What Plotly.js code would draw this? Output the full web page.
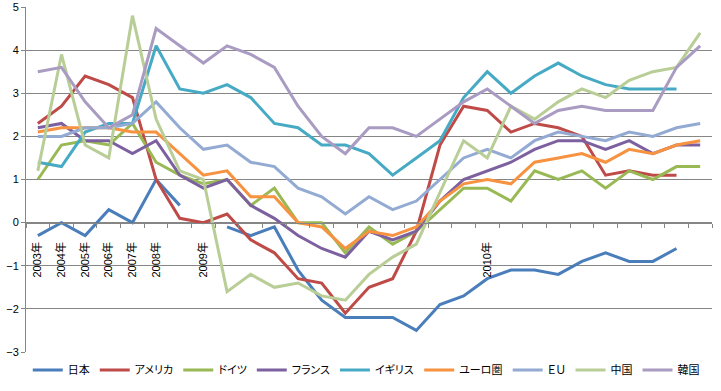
<!DOCTYPE html>
<html>
<head>
<meta charset="utf-8">
<script src="https://cdn.plot.ly/plotly-3.0.1.min.js"></script>
<style>
html,body{margin:0;padding:0;background:#fff;}
#chart{width:721px;height:391px;}
.legendtext{font-feature-settings:"palt" 1;}
</style>
</head>
<body>
<div id="chart"></div>
<script>
// categories: annual 2003-2008, then monthly Dec 2008 - Oct 2010
const categories = ['2003','2004','2005','2006','2007','2008','2008-12',
  '2009-01','2009-02','2009-03','2009-04','2009-05','2009-06','2009-07','2009-08','2009-09','2009-10','2009-11','2009-12',
  '2010-01','2010-02','2010-03','2010-04','2010-05','2010-06','2010-07','2010-08','2010-09','2010-10'];
const tickLabels = ['2003年','2004年','2005年','2006年','2007年','2008年','',
  '2009年','','','','','','','','','','','',
  '2010年','','','','','','','','',''];

const seriesNames = ['日本','アメリカ','ドイツ','フランス','イギリス','ユーロ圏','ＥＵ','中国','韓国'];

const japan   = [-0.3,0.0,-0.3,0.3,0.0,1.0,0.4, null,-0.1,-0.3,-0.1,-1.1,-1.8,-2.2,-2.2,-2.2,-2.5,-1.9, -1.7,-1.3,-1.1,-1.1,-1.2,-0.9,-0.7,-0.9,-0.9,-0.6,null];
const usa     = [2.3,2.7,3.4,3.2,2.9,1.0,0.1, 0.0,0.2,-0.4,-0.7,-1.3,-1.4,-2.1,-1.5,-1.3,-0.2,1.8, 2.7,2.6,2.1,2.3,2.2,2.0,1.1,1.2,1.1,1.1,null];
const germany = [1.0,1.8,1.9,1.8,2.3,1.4,1.1, 0.9,1.0,0.4,0.8,0.0,0.0,-0.7,-0.1,-0.5,-0.2,0.3, 0.8,0.8,0.5,1.2,1.0,1.2,0.8,1.2,1.0,1.3,1.3];
const france  = [2.2,2.3,1.9,1.9,1.6,1.9,1.1, 0.8,1.0,0.4,0.1,-0.3,-0.6,-0.8,-0.2,-0.4,-0.2,0.5, 1.0,1.2,1.4,1.7,1.9,1.9,1.7,1.9,1.6,1.8,1.8];
const uk      = [1.4,1.3,2.1,2.3,2.3,4.1,3.1, 3.0,3.2,2.9,2.3,2.2,1.8,1.8,1.6,1.1,1.5,1.9, 2.9,3.5,3.0,3.4,3.7,3.4,3.2,3.1,3.1,3.1,null];
const euro    = [2.1,2.2,2.2,2.2,2.1,2.1,1.6, 1.1,1.2,0.6,0.6,0.0,-0.1,-0.6,-0.2,-0.3,-0.1,0.5, 0.9,1.0,0.9,1.4,1.5,1.6,1.4,1.7,1.6,1.8,1.9];
const eu      = [2.0,2.0,2.2,2.2,2.3,2.8,2.2, 1.7,1.8,1.4,1.3,0.8,0.6,0.2,0.6,0.3,0.5,1.0, 1.5,1.7,1.5,1.9,2.1,2.0,1.9,2.1,2.0,2.2,2.3];
const china   = [1.2,3.9,1.8,1.5,4.8,2.4,1.2, 1.0,-1.6,-1.2,-1.5,-1.4,-1.7,-1.8,-1.2,-0.8,-0.5,0.7, 1.9,1.5,2.7,2.4,2.8,3.1,2.9,3.3,3.5,3.6,4.4];
const korea   = [3.5,3.6,2.8,2.2,2.5,4.5,4.1, 3.7,4.1,3.9,3.6,2.7,2.0,1.6,2.2,2.2,2.0,2.4, 2.8,3.1,2.7,2.3,2.6,2.7,2.6,2.6,2.6,3.6,4.1];

const seriesValues = [japan, usa, germany, france, uk, euro, eu, china, korea];
const seriesColors = ['#4A7EBB','#BE4B48','#98B954','#7D60A0','#46AAC5','#F69240','#93AAD3','#B9CE96','#A99BC2'];

const traces = seriesNames.map((name, k) => ({
  type: 'scatter',
  mode: 'lines',
  name: name,
  x: categories,
  y: seriesValues[k],
  connectgaps: false,
  line: {color: seriesColors[k], width: 3},
  hoverinfo: 'skip'
}));

const fontFam = 'Liberation Sans, Noto Sans CJK JP, sans-serif';

const layout = {
  width: 721,
  height: 391,
  margin: {l: 26, r: 9, t: 7, b: 39, pad: 0},
  paper_bgcolor: '#ffffff',
  plot_bgcolor: '#ffffff',
  font: {family: fontFam, size: 11, color: '#000000'},
  showlegend: true,
  legend: {
    orientation: 'h',
    x: 0.496, xanchor: 'center',
    y: -0.052, yanchor: 'middle',
    font: {family: 'Noto Sans CJK JP, sans-serif', size: 11, color: '#000'},
    itemwidth: 30,
    tracegroupgap: 0
  },
  xaxis: {
    type: 'category',
    categoryorder: 'array',
    categoryarray: categories,
    range: [-0.5, categories.length - 0.5],
    tickmode: 'array',
    tickvals: categories,
    ticktext: tickLabels,
    tickangle: -90,
    tickson: 'boundaries',
    ticks: 'outside',
    ticklen: 4,
    tickcolor: '#868686',
    ticklabelstandoff: 14,
    showline: true,
    linecolor: '#868686',
    linewidth: 1,
    showgrid: false,
    zeroline: false,
    anchor: 'free',
    position: 0.375,
    tickfont: {family: fontFam, size: 11, color: '#000'},
    fixedrange: true
  },
  yaxis: {
    range: [-3, 5],
    dtick: 1,
    tick0: 0,
    ticks: 'outside',
    ticklen: 4,
    tickcolor: '#868686',
    showline: true,
    linecolor: '#868686',
    linewidth: 1,
    showgrid: true,
    gridcolor: '#868686',
    gridwidth: 1,
    zeroline: false,
    tickfont: {family: fontFam, size: 11, color: '#000'},
    fixedrange: true
  }
};

Plotly.newPlot('chart', traces, layout, {staticPlot: true, displayModeBar: false});
</script>
</body>
</html>
